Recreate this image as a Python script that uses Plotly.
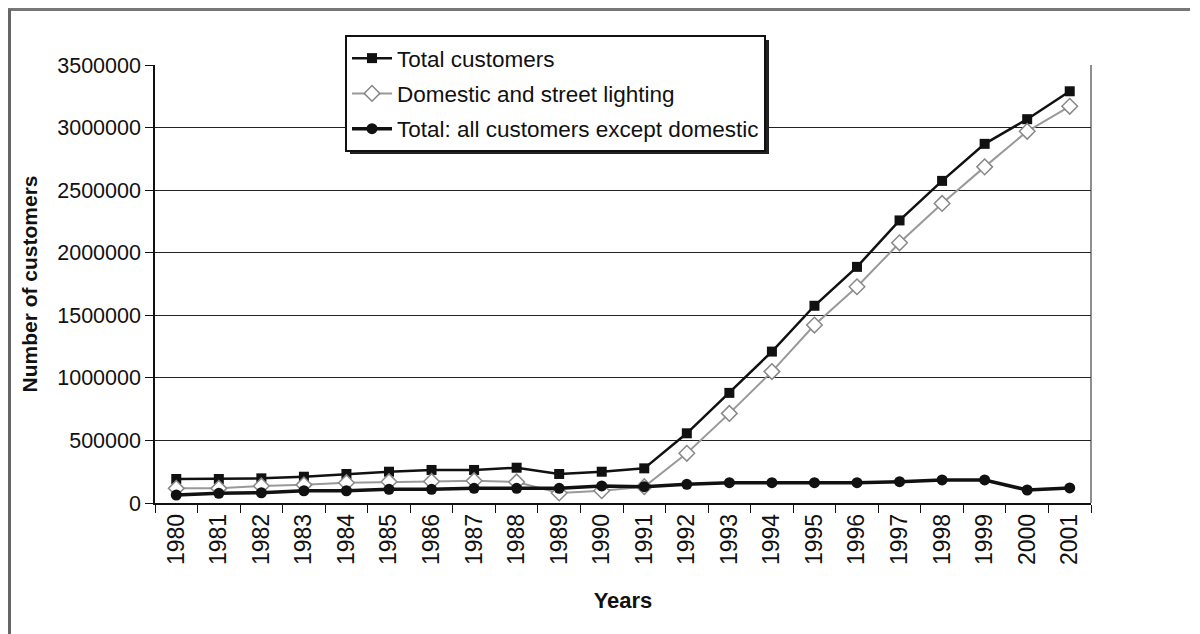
import plotly.graph_objects as go

years = [str(y) for y in range(1980, 2002)]
total_customers = [192000, 192000, 197000, 210000, 232000, 250000, 264000, 264000, 282000,
                   232000, 250000, 277000, 557000, 880000, 1210000, 1576000, 1887000, 2258000,
                   2574000, 2870000, 3067000, 3290000]
domestic_street = [117000, 117000, 136000, 145000, 162000, 170000, 172000, 178000, 168000,
                   80000, 98000, 130000, 397000, 716000, 1050000, 1422000, 1728000, 2079000,
                   2394000, 2686000, 2970000, 3170000]
non_domestic = [64000, 77000, 82000, 98000, 98000, 109000, 109000, 117000, 117000,
                117000, 136000, 130000, 149000, 162000, 162000, 162000, 162000, 170000,
                184000, 184000, 104000, 120000]
y_ticks = [0, 500000, 1000000, 1500000, 2000000, 2500000, 3000000, 3500000]

# page layout (browser body adds an 8px margin around the figure)
OFF = 8
PX0, PX1, PY0, PY1 = 155, 1091, 65, 503  # plot area in page pixels


def px(x):
    return (x - PX0) / (PX1 - PX0)


def py(y):
    return (PY1 - y) / (PY1 - PY0)


fig = go.Figure()
fig.add_trace(go.Scatter(x=years, y=total_customers, name="Total customers",
                         mode="lines+markers", legendgroup="a",
                         line=dict(color="#111111", width=2.5),
                         marker=dict(symbol="square", size=10, color="#111111")))
fig.add_trace(go.Scatter(x=years, y=domestic_street, name="Domestic and street lighting",
                         mode="lines+markers", legendgroup="b",
                         line=dict(color="#999999", width=2),
                         marker=dict(symbol="diamond", size=12, color="white",
                                     line=dict(color="#888888", width=1.5))))
fig.add_trace(go.Scatter(x=years, y=non_domestic, name="Total: all customers except domestic",
                         mode="lines+markers", legendgroup="c",
                         line=dict(color="#111111", width=3.5),
                         marker=dict(symbol="circle", size=11, color="#111111")))

font_family = "Liberation Sans, Arial, sans-serif"
fig.update_layout(
    width=1200, height=634,
    margin=dict(l=PX0 - OFF, r=1200 + OFF - PX1, t=PY0 - OFF, b=634 + OFF - PY1),
    paper_bgcolor="white", plot_bgcolor="white",
    font=dict(family=font_family, size=21, color="#111111"),
    showlegend=True,
    legend=dict(x=px(345), y=py(35), xanchor="left", yanchor="top",
                bgcolor="white", bordercolor="#111111", borderwidth=2,
                font=dict(size=22.5, family=font_family), tracegroupgap=3,
                itemwidth=40),
    xaxis=dict(type="category", range=[-0.5, len(years) - 0.5], autorange=False,
               tickson="boundaries", ticks="outside", ticklen=8, automargin=False,
               tickcolor="#111111", tickangle=-90, showline=True, linecolor="#111111",
               linewidth=1.5, showgrid=False, mirror=False,
               title=dict(text="<b>Years</b>", font=dict(size=22), standoff=28),
               tickfont=dict(size=23)),
    yaxis=dict(range=[0, 3500000], tickvals=y_ticks, ticktext=[str(v) for v in y_ticks],
               ticks="outside", ticklen=8, tickcolor="#111111", automargin=False,
               showline=True, linecolor="#111111", linewidth=1.5,
               showgrid=True, gridcolor="#222222", gridwidth=1, zeroline=False,
               title=dict(text="<b>Number of customers</b>", font=dict(size=21), standoff=14),
               tickfont=dict(size=21.5)),
    shapes=[
        # plot area right border
        dict(type="line", xref="paper", yref="paper", x0=1, x1=1, y0=0, y1=1,
             line=dict(color="#444444", width=1.2)),
        # legend shadow
        dict(type="rect", xref="paper", yref="paper",
             x0=px(350), x1=px(769), y0=py(154), y1=py(40),
             fillcolor="#222222", line=dict(width=0), layer="above"),
        # outer frame lines
        dict(type="line", xref="paper", yref="paper",
             x0=px(8), x1=px(1190), y0=py(9.5), y1=py(9.5),
             line=dict(color="#777777", width=3)),
        dict(type="line", xref="paper", yref="paper",
             x0=px(9.5), x1=px(9.5), y0=py(9.5), y1=py(634),
             line=dict(color="#666666", width=3)),
    ],
)

fig.write_html("out.html")
